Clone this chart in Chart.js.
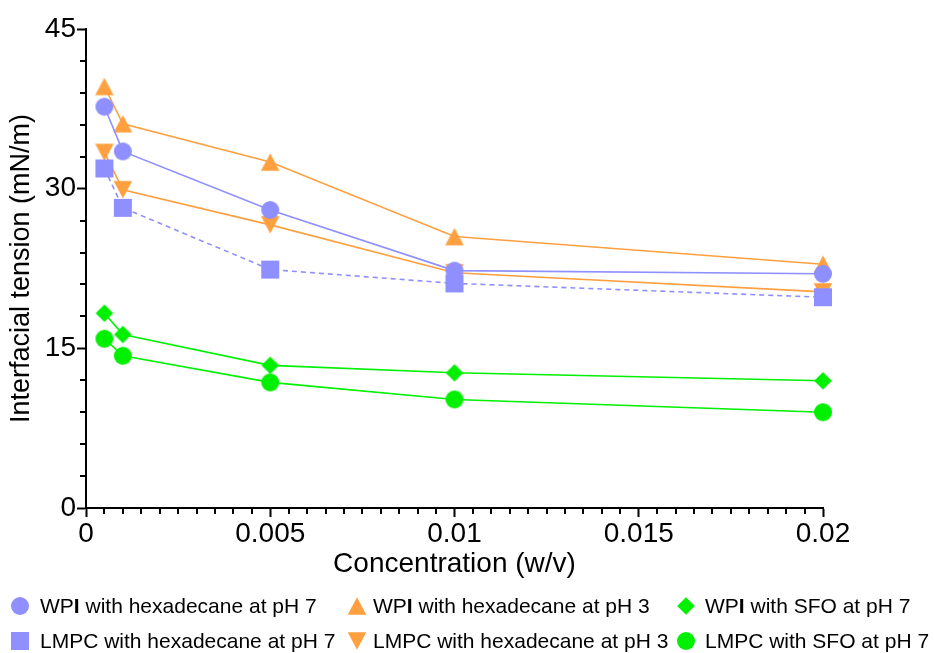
<!DOCTYPE html>
<html>
<head>
<meta charset="utf-8">
<script src="https://cdn.jsdelivr.net/npm/chart.js@4"></script>
<style>
  html, body { margin: 0; padding: 0; background: #fff; }
  #wrap { position: relative; width: 935px; height: 653px; }
  #legend { position: absolute; left: 0; top: 0; width: 935px; height: 653px; font-family: "Liberation Sans", Arial, sans-serif; font-size: 21px; color: #000; }
  .lg-mark { position: absolute; }
  .lg-text { position: absolute; white-space: nowrap; line-height: 24px; height: 24px; }
</style>
</head>
<body>
<div id="wrap">
  <canvas id="myChart" width="935" height="653"></canvas>
  <div id="legend"></div>
</div>
<script>
// concentration (w/v)
const concentrations = [0.0005, 0.001, 0.005, 0.01, 0.02];

// interfacial tension (mN/m)
const wpiHexPh7 = [37.7, 33.5, 28.0, 22.3, 22.0];
const lmpcHexPh7 = [31.9, 28.2, 22.4, 21.1, 19.8];
const wpiHexPh3 = [39.6, 36.1, 32.5, 25.5, 22.9];
const lmpcHexPh3 = [33.4, 29.9, 26.6, 22.1, 20.3];
const wpiSfoPh7 = [18.3, 16.3, 13.4, 12.7, 11.95];
const lmpcSfoPh7 = [15.9, 14.3, 11.8, 10.2, 9.0];

const xTickLabels = ["0", "0.005", "0.01", "0.015", "0.02"];
const yTickLabels = ["0", "15", "30", "45"];

const BLUE = "#8f8fff";
const ORANGE = "#ffa040";
const GREEN = "#00f000";
const FONT = '"Liberation Sans", Arial, sans-serif';

// small canvases used as point markers (chart + legend)
function makeMarker(shape, color) {
  const s = 22;
  const c = s / 2;
  const cv = document.createElement("canvas");
  cv.width = s;
  cv.height = s;
  const g = cv.getContext("2d");
  g.fillStyle = color;
  g.beginPath();
  if (shape === "circle") {
    g.arc(c, c, 9, 0, Math.PI * 2);
  } else if (shape === "square") {
    g.rect(c - 9, c - 9, 18, 18);
  } else if (shape === "triUp") {
    g.moveTo(c, c - 8.7);
    g.lineTo(c + 9.3, c + 8.7);
    g.lineTo(c - 9.3, c + 8.7);
  } else if (shape === "triDown") {
    g.moveTo(c, c + 8.7);
    g.lineTo(c + 9.3, c - 8.7);
    g.lineTo(c - 9.3, c - 8.7);
  } else if (shape === "diamond") {
    g.moveTo(c, c - 8.8);
    g.lineTo(c + 8.8, c);
    g.lineTo(c, c + 8.8);
    g.lineTo(c - 8.8, c);
  }
  g.closePath();
  g.fill();
  return cv;
}

const series = [
  { label: "WP<b>I</b> with hexadecane at pH 7", values: wpiHexPh7, color: BLUE, shape: "circle", dash: [] },
  { label: "LMPC with hexadecane at pH 7", values: lmpcHexPh7, color: BLUE, shape: "square", dash: [5, 4] },
  { label: "WP<b>I</b> with hexadecane at pH 3", values: wpiHexPh3, color: ORANGE, shape: "triUp", dash: [] },
  { label: "LMPC with hexadecane at pH 3", values: lmpcHexPh3, color: ORANGE, shape: "triDown", dash: [] },
  { label: "WP<b>I</b> with SFO at pH 7", values: wpiSfoPh7, color: GREEN, shape: "diamond", dash: [] },
  { label: "LMPC with SFO at pH 7", values: lmpcSfoPh7, color: GREEN, shape: "circle", dash: [] },
];
series.forEach((s) => (s.marker = makeMarker(s.shape, s.color)));

// short minor ticks, long major ones come from the grid options
const minorTicks = {
  id: "minorTicks",
  afterDraw(chart) {
    const ctx = chart.ctx;
    const xs = chart.scales.x;
    const ys = chart.scales.y;
    const area = chart.chartArea;
    ctx.save();
    ctx.strokeStyle = "#000";
    ctx.lineWidth = 2;
    ctx.beginPath();
    xs.ticks.forEach((t, i) => {
      if (i % 10 === 0) return;
      const px = Math.round(xs.getPixelForValue(t.value));
      ctx.moveTo(px, area.bottom);
      ctx.lineTo(px, area.bottom + 6);
    });
    ys.ticks.forEach((t) => {
      if (t.value % 15 === 0) return;
      const py = Math.round(ys.getPixelForValue(t.value));
      ctx.moveTo(area.left, py);
      ctx.lineTo(area.left - 6, py);
    });
    ctx.stroke();
    ctx.restore();
  },
};

const ctx = document.getElementById("myChart").getContext("2d");

new Chart(ctx, {
  type: "line",
  data: {
    datasets: series.map((s) => ({
      label: s.label,
      data: concentrations.map((x, i) => ({ x, y: s.values[i] })),
      borderColor: s.color,
      backgroundColor: s.color,
      borderWidth: 1.6,
      borderDash: s.dash,
      pointStyle: s.marker,
      pointRadius: 9,
      pointHoverRadius: 9,
      tension: 0,
      clip: false,
    })),
  },
  options: {
    responsive: false,
    animation: false,
    devicePixelRatio: 1,
    layout: { padding: { top: 29, right: 112, bottom: 72, left: 0 } },
    plugins: {
      legend: { display: false },
      tooltip: { enabled: false },
    },
    scales: {
      x: {
        type: "linear",
        min: 0,
        max: 0.02,
        border: { display: true, color: "#000", width: 2 },
        grid: {
          drawOnChartArea: false,
          drawTicks: true,
          tickLength: 9,
          tickWidth: 2,
          tickColor: (c) => (c.index % 10 === 0 ? "#000" : "rgba(0,0,0,0)"),
        },
        ticks: {
          stepSize: 0.0005,
          autoSkip: false,
          maxRotation: 0,
          padding: 0,
          color: "#000",
          font: { family: FONT, size: 28 },
          callback: (v, i) => (i % 10 === 0 ? xTickLabels[i / 10] : ""),
        },
        title: {
          display: true,
          text: "Concentration (w/v)",
          color: "#000",
          font: { family: FONT, size: 28 },
          padding: { top: 0, bottom: 0 },
        },
        afterFit: (s) => {
          s.height = 73;
        },
      },
      y: {
        min: 0,
        max: 45,
        border: { display: true, color: "#000", width: 2 },
        grid: {
          drawOnChartArea: false,
          drawTicks: true,
          tickLength: 9,
          tickWidth: 2,
          tickColor: (c) => (c.tick && c.tick.value % 15 === 0 ? "#000" : "rgba(0,0,0,0)"),
        },
        ticks: {
          stepSize: 3,
          autoSkip: false,
          padding: 1,
          color: "#000",
          font: { family: FONT, size: 28 },
          callback: (v) => (v % 15 === 0 ? yTickLabels[v / 15] : ""),
        },
        title: {
          display: true,
          text: "Interfacial tension (mN/m)",
          color: "#000",
          font: { family: FONT, size: 27 },
          padding: { top: 5, bottom: 0 },
        },
        afterFit: (s) => {
          s.width = 86;
        },
      },
    },
  },
  plugins: [minorTicks],
});

// legend: 3 columns x 2 rows below the plot
const legendEl = document.getElementById("legend");
const colMark = [20, 357, 686];
const colText = [40, 373, 705];
const rowY = [606, 641];
const legendOrder = [0, 2, 4, 1, 3, 5];
legendOrder.forEach((si, k) => {
  const s = series[si];
  const col = k % 3;
  const row = Math.floor(k / 3);
  const m = makeMarker(s.shape, s.color);
  m.className = "lg-mark";
  m.style.left = colMark[col] - 11 + "px";
  m.style.top = rowY[row] - 11 + "px";
  legendEl.appendChild(m);
  const t = document.createElement("span");
  t.className = "lg-text";
  t.innerHTML = s.label;
  t.style.left = colText[col] + "px";
  t.style.top = rowY[row] - 12 + "px";
  legendEl.appendChild(t);
});
</script>
</body>
</html>
